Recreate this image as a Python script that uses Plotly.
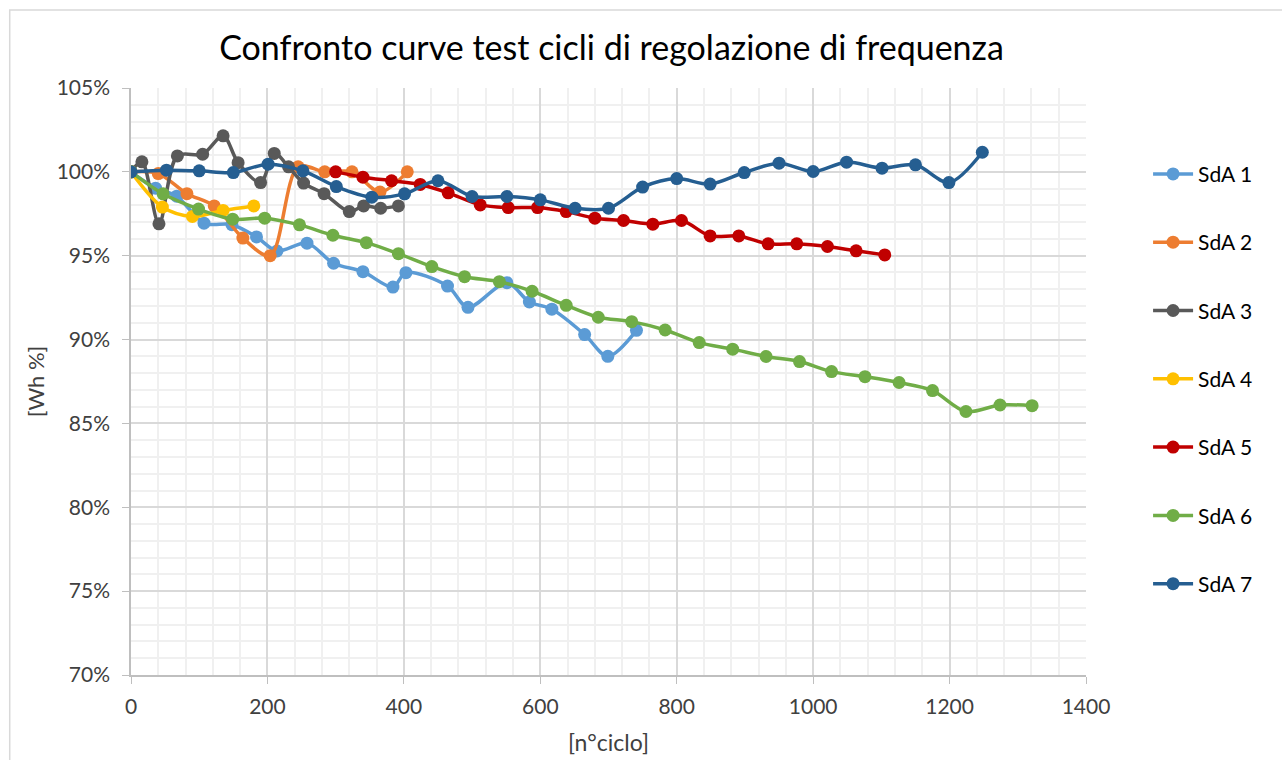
import plotly.graph_objects as go

# cycle number / Wh%
SDA1_X = [0, 36, 67, 107, 148, 184, 214, 258, 297, 340, 384, 403, 464, 494, 551, 584, 617, 665, 699, 741]
SDA1_Y = [100, 99.03, 98.55, 96.94, 96.85, 96.12, 95.28, 95.75, 94.55, 94.05, 93.13, 93.99, 93.19, 91.92,
          93.39, 92.24, 91.81, 90.3, 89.0, 90.55]

SDA2_X = [0, 40, 82, 122, 164, 204, 245, 284, 324, 365, 405]
SDA2_Y = [100, 99.9, 98.7, 97.97, 96.05, 95.0, 100.3, 100.0, 100.0, 98.8, 100.0]

SDA3_X = [0, 16, 41, 68, 105, 135, 157, 190, 210, 231, 253, 283, 320, 341, 366, 392]
SDA3_Y = [100, 100.6, 96.9, 100.95, 101.05, 102.15, 100.55, 99.36, 101.1, 100.3, 99.33, 98.7, 97.63,
          97.97, 97.83, 97.97]

SDA4_X = [0, 46, 90, 135, 180]
SDA4_Y = [100, 97.9, 97.34, 97.7, 97.97]

SDA5_X = [300, 340, 382, 424, 465, 512, 553, 596, 638, 680, 722, 765, 807, 849, 891, 934, 976, 1021, 1063, 1105]
SDA5_Y = [100, 99.68, 99.47, 99.25, 98.75, 98.03, 97.87, 97.87, 97.63, 97.24, 97.1, 96.88, 97.1, 96.18,
          96.18, 95.71, 95.71, 95.55, 95.29, 95.05]

SDA6_X = [0, 47, 99, 149, 196, 247, 296, 345, 392, 441, 489, 540, 588, 638, 685, 734, 783, 833, 882, 931,
          980, 1027, 1076, 1126, 1175, 1224, 1274, 1321]
SDA6_Y = [100, 98.69, 97.78, 97.18, 97.24, 96.84, 96.22, 95.78, 95.12, 94.35, 93.75, 93.45, 92.88, 92.04,
          91.33, 91.07, 90.57, 89.82, 89.43, 88.99, 88.69, 88.09, 87.79, 87.44, 86.96, 85.71, 86.1, 86.06]

SDA7_X = [0, 52, 100, 150, 201, 252, 301, 353, 401, 450, 500, 551, 600, 651, 700, 750, 800, 849, 899, 950,
          1000, 1049, 1101, 1150, 1199, 1248]
SDA7_Y = [100, 100.1, 100.06, 99.96, 100.46, 100.06, 99.12, 98.49, 98.69, 99.47, 98.53, 98.53, 98.33, 97.83,
          97.83, 99.09, 99.6, 99.27, 99.96, 100.52, 100.02, 100.58, 100.22, 100.42, 99.36, 101.17]

NAMES = ['SdA 1', 'SdA 2', 'SdA 3', 'SdA 4', 'SdA 5', 'SdA 6', 'SdA 7']
COLORS = ['#5B9BD5', '#ED7D31', '#595959', '#FFC000', '#C00000', '#70AD47', '#255E91']
SERIES = [(SDA1_X, SDA1_Y), (SDA2_X, SDA2_Y), (SDA3_X, SDA3_Y), (SDA4_X, SDA4_Y),
          (SDA5_X, SDA5_Y), (SDA6_X, SDA6_Y), (SDA7_X, SDA7_Y)]

FONT = 'Lato'

fig = go.Figure()
for name, color, (xs, ys) in zip(NAMES, COLORS, SERIES):
    fig.add_trace(go.Scatter(x=xs, y=ys, name=name, mode='lines+markers', legendgroup=name,
                             line=dict(color=color, width=3.5, shape='spline', smoothing=0.9),
                             marker=dict(color=color, size=13)))

fig.update_layout(
    width=1282, height=760,
    margin=dict(l=131, r=196, t=88, b=85),
    paper_bgcolor='white', plot_bgcolor='white',
    font=dict(family=FONT, size=21, color='#404040'),
    title=dict(text='Confronto curve test cicli di regolazione di frequenza', x=0.477, xanchor='center',
               y=0.937, yanchor='middle', font=dict(family=FONT, size=34, color='#000000')),
    legend=dict(x=1.065, xanchor='left', y=0.888, yanchor='top', tracegroupgap=38,
                font=dict(family=FONT, size=21, color='#000000'), itemwidth=40),
    xaxis=dict(range=[0, 1400], dtick=200, tick0=0, showline=True, linecolor='#bfbfbf', linewidth=1.5,
               ticks='outside', ticklen=7, tickcolor='#bfbfbf', ticklabelstandoff=5, automargin=False,
               showgrid=True, gridcolor='#d9d9d9', gridwidth=1.5, zeroline=False,
               minor=dict(dtick=40, showgrid=True, gridcolor='#f0f0f0', gridwidth=1.5),
               title=dict(text='[n°ciclo]', font=dict(family=FONT, size=23, color='#404040'), standoff=18),
               tickfont=dict(family=FONT, size=21, color='#404040')),
    yaxis=dict(range=[70, 105], dtick=5, tick0=70, ticksuffix='%', showline=True, linecolor='#bfbfbf',
               linewidth=1.5, ticks='outside', ticklen=7, tickcolor='#bfbfbf', ticklabelstandoff=8,
               showgrid=True, gridcolor='#d9d9d9', gridwidth=1.5, zeroline=False, automargin=False,
               minor=dict(dtick=1, showgrid=True, gridcolor='#f0f0f0', gridwidth=1.5),
               title=dict(text='[Wh %]', font=dict(family=FONT, size=22, color='#404040'), standoff=6),
               tickfont=dict(family=FONT, size=21, color='#404040')),
)

# light frame around the whole chart area
fig.add_shape(type='rect', xref='paper', yref='paper', x0=-0.127, y0=-0.2, x1=1.3, y1=1.133,
              line=dict(color='#d9d9d9', width=1.5), fillcolor='rgba(0,0,0,0)', layer='below')

fig.write_html("out.html", config={'displayModeBar': False},
               post_script="document.body.style.margin='0';")
